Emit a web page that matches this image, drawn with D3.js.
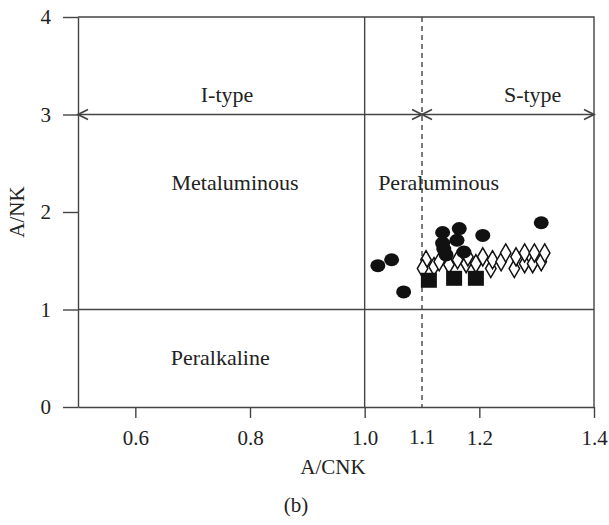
<!DOCTYPE html>
<html>
<head>
<meta charset="utf-8">
<script src="https://cdn.jsdelivr.net/npm/d3@7"></script>
<style>
  body { margin: 0; background: #fff; }
  text { font-family: "Liberation Serif", "DejaVu Serif", serif; fill: #222; }
  .axis path, .axis line { stroke: #444; stroke-width: 1.4; }
  .axis text { font-size: 21px; font-family: "Liberation Serif", serif; fill: #222; }
</style>
</head>
<body>
<svg id="chart" width="609" height="525"></svg>
<script>
// x ticks, y ticks
const xTicks = [0.6, 0.8, 1.0, 1.2, 1.4];
const yTicks = [0, 1, 2, 3, 4];

// filled circles
const circlePts = [
  [1.023, 1.45], [1.047, 1.51], [1.068, 1.18],
  [1.136, 1.79], [1.165, 1.83], [1.161, 1.71], [1.136, 1.68],
  [1.138, 1.62], [1.142, 1.56], [1.173, 1.59], [1.206, 1.76], [1.308, 1.89]
];

// filled squares
const squarePts = [[1.112, 1.30], [1.156, 1.32], [1.194, 1.32]];

// open diamonds
const diamondPts = [
  [1.107, 1.51], [1.101, 1.42], [1.121, 1.44], [1.130, 1.49], [1.147, 1.46],
  [1.162, 1.51], [1.177, 1.47], [1.180, 1.54], [1.194, 1.47], [1.206, 1.54],
  [1.220, 1.42], [1.223, 1.51], [1.238, 1.49], [1.246, 1.58], [1.261, 1.42],
  [1.264, 1.54], [1.279, 1.47], [1.279, 1.58], [1.293, 1.47], [1.296, 1.58],
  [1.308, 1.49], [1.314, 1.58]
];

const svg = d3.select("#chart");
const x = d3.scaleLinear().domain([0.5, 1.4]).range([78, 594]);
const y = d3.scaleLinear().domain([0, 4]).range([407, 17]);
const lineCol = "#444";

// arrow marker (open V)
svg.append("defs").append("marker")
    .attr("id", "arr")
    .attr("viewBox", "-12 -7 14 14")
    .attr("refX", 0)
    .attr("refY", 0)
    .attr("markerWidth", 14)
    .attr("markerHeight", 14)
    .attr("markerUnits", "userSpaceOnUse")
    .attr("orient", "auto-start-reverse")
    .append("path")
    .attr("d", "M-10,-5L0,0L-10,5")
    .attr("fill", "none")
    .attr("stroke", lineCol)
    .attr("stroke-width", 1.8);

// frame
svg.append("path")
    .attr("d", "M" + x(0.5) + "," + y(4) + "H" + x(1.4) + "V" + y(0))
    .attr("fill", "none").attr("stroke", lineCol).attr("stroke-width", 1.4);

// axes
svg.append("g").attr("class", "axis")
    .attr("transform", "translate(0," + y(0) + ")")
    .call(d3.axisBottom(x).tickValues(xTicks).tickFormat(d3.format(".1f"))
        .tickSizeInner(11).tickSizeOuter(0).tickPadding(12));

svg.append("g").attr("class", "axis")
    .attr("transform", "translate(" + x(0.5) + ",0)")
    .call(d3.axisLeft(y).tickValues(yTicks).tickFormat(d3.format("d"))
        .tickSizeInner(15).tickSizeOuter(0).tickPadding(12));

// extra label for 1.1 (no tick)
svg.append("text")
    .attr("x", x(1.1)).attr("y", y(0) + 37)
    .attr("text-anchor", "middle").attr("font-size", 21)
    .text("1.1");

// divider lines
svg.append("line")
    .attr("x1", x(1.0)).attr("x2", x(1.0)).attr("y1", y(4)).attr("y2", y(0))
    .attr("stroke", lineCol).attr("stroke-width", 1.4);
svg.append("line")
    .attr("x1", x(1.1)).attr("x2", x(1.1)).attr("y1", y(4)).attr("y2", y(0))
    .attr("stroke", lineCol).attr("stroke-width", 1.4).attr("stroke-dasharray", "5,4");
svg.append("line")
    .attr("x1", x(0.5)).attr("x2", x(1.4)).attr("y1", y(1)).attr("y2", y(1))
    .attr("stroke", lineCol).attr("stroke-width", 1.4);

// I-type / S-type arrows
[[0.5, 1.1], [1.1, 1.4]].forEach(function (seg) {
    svg.append("line")
        .attr("x1", x(seg[0])).attr("x2", x(seg[1]))
        .attr("y1", y(3)).attr("y2", y(3))
        .attr("stroke", lineCol).attr("stroke-width", 1.4)
        .attr("marker-start", "url(#arr)")
        .attr("marker-end", "url(#arr)");
});

// region labels
const labels = [
    {t: "I-type", vx: 0.76, vy: 3.2},
    {t: "S-type", vx: 1.293, vy: 3.2},
    {t: "Metaluminous", vx: 0.774, vy: 2.3},
    {t: "Peraluminous", vx: 1.129, vy: 2.3},
    {t: "Peralkaline", vx: 0.748, vy: 0.5}
];
svg.selectAll("text.region")
    .data(labels)
    .enter().append("text")
    .attr("class", "region")
    .attr("x", d => x(d.vx))
    .attr("y", d => y(d.vy) + 7)
    .attr("text-anchor", "middle")
    .attr("font-size", 22)
    .text(d => d.t);

// diamonds
svg.selectAll("path.dia")
    .data(diamondPts)
    .enter().append("path")
    .attr("class", "dia")
    .attr("d", d3.symbol(d3.symbolDiamond, 95))
    .attr("transform", d => "translate(" + x(d[0]) + "," + y(d[1]) + ")")
    .attr("fill", "#fff")
    .attr("stroke", "#111")
    .attr("stroke-width", 1.5);

// circles
svg.selectAll("ellipse.pt")
    .data(circlePts)
    .enter().append("ellipse")
    .attr("class", "pt")
    .attr("cx", d => x(d[0]))
    .attr("cy", d => y(d[1]))
    .attr("rx", 7.5).attr("ry", 6.5)
    .attr("fill", "#111");

// squares
svg.selectAll("rect.sq")
    .data(squarePts)
    .enter().append("rect")
    .attr("class", "sq")
    .attr("x", d => x(d[0]) - 8)
    .attr("y", d => y(d[1]) - 7.5)
    .attr("width", 16).attr("height", 15)
    .attr("fill", "#111");

// axis titles
svg.append("text")
    .attr("transform", "translate(24," + y(2.0) + ") rotate(-90)")
    .attr("text-anchor", "middle").attr("font-size", 21)
    .text("A/NK");
svg.append("text")
    .attr("x", 333).attr("y", 474)
    .attr("text-anchor", "middle").attr("font-size", 21)
    .text("A/CNK");
svg.append("text")
    .attr("x", 296).attr("y", 512)
    .attr("text-anchor", "middle").attr("font-size", 21)
    .text("(b)");
</script>
</body>
</html>
